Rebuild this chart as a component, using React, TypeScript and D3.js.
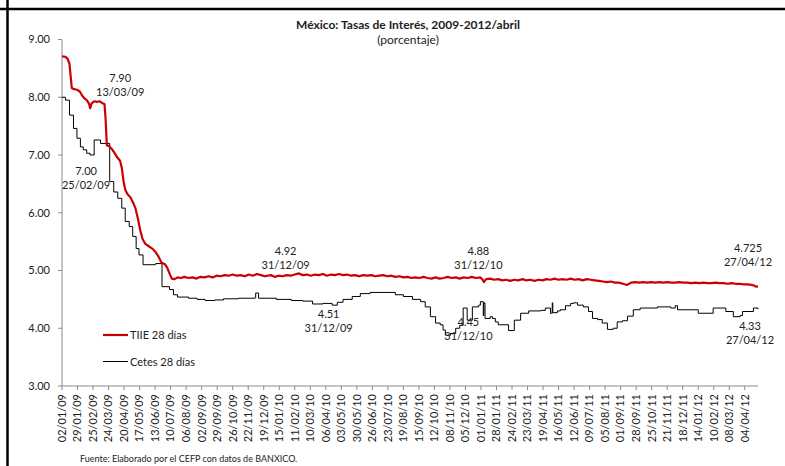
import React from "react";
import * as d3 from "d3";

const W = 785;
const H = 466;

// etiquetas del eje x (cada 27 días)
const tickDates = [
  "2009-01-02", "2009-01-29", "2009-02-25", "2009-03-24", "2009-04-20", "2009-05-17",
  "2009-06-13", "2009-07-10", "2009-08-06", "2009-09-02", "2009-09-29", "2009-10-26",
  "2009-11-22", "2009-12-19", "2010-01-15", "2010-02-11", "2010-03-10", "2010-04-06",
  "2010-05-03", "2010-05-30", "2010-06-26", "2010-07-23", "2010-08-19", "2010-09-15",
  "2010-10-12", "2010-11-08", "2010-12-05", "2011-01-01", "2011-01-28", "2011-02-24",
  "2011-03-23", "2011-04-19", "2011-05-16", "2011-06-12", "2011-07-09", "2011-08-05",
  "2011-09-01", "2011-09-28", "2011-10-25", "2011-11-21", "2011-12-18", "2012-01-14",
  "2012-02-10", "2012-03-08", "2012-04-04",
];
const yTicks = [3, 4, 5, 6, 7, 8, 9];

// TIIE 28 días
const tiie: [string, number][] = [
  ["2009-01-02", 8.71], ["2009-01-08", 8.70], ["2009-01-12", 8.66], ["2009-01-15", 8.58],
  ["2009-01-19", 8.16], ["2009-01-23", 8.14], ["2009-01-28", 8.13], ["2009-02-02", 8.10],
  ["2009-02-06", 8.03], ["2009-02-10", 7.98], ["2009-02-14", 7.95], ["2009-02-18", 7.89],
  ["2009-02-20", 7.81], ["2009-02-23", 7.90], ["2009-02-27", 7.93], ["2009-03-04", 7.92],
  ["2009-03-09", 7.93], ["2009-03-13", 7.90], ["2009-03-17", 7.88], ["2009-03-19", 7.60],
  ["2009-03-21", 7.17], ["2009-03-25", 7.15], ["2009-03-30", 7.10], ["2009-04-03", 7.04],
  ["2009-04-08", 6.96], ["2009-04-13", 6.90], ["2009-04-16", 6.78], ["2009-04-19", 6.55],
  ["2009-04-22", 6.40], ["2009-04-26", 6.32], ["2009-05-01", 6.27], ["2009-05-06", 6.17],
  ["2009-05-10", 6.07], ["2009-05-14", 5.90], ["2009-05-18", 5.70], ["2009-05-22", 5.55],
  ["2009-05-27", 5.46], ["2009-06-02", 5.42], ["2009-06-08", 5.38], ["2009-06-13", 5.33],
  ["2009-06-19", 5.24], ["2009-06-24", 5.14], ["2009-06-30", 5.11], ["2009-07-04", 5.05],
  ["2009-07-08", 4.95], ["2009-07-12", 4.86], ["2009-07-17", 4.85], ["2009-07-22", 4.88],
  ["2009-07-28", 4.87], ["2009-08-03", 4.89], ["2009-08-10", 4.87], ["2009-08-17", 4.88],
  ["2009-08-24", 4.86], ["2009-08-31", 4.89], ["2009-09-07", 4.88], ["2009-09-14", 4.90],
  ["2009-09-21", 4.88], ["2009-09-28", 4.91], ["2009-10-05", 4.90], ["2009-10-12", 4.92],
  ["2009-10-19", 4.91], ["2009-10-26", 4.93], ["2009-11-02", 4.91], ["2009-11-09", 4.92],
  ["2009-11-16", 4.90], ["2009-11-23", 4.93], ["2009-11-30", 4.91], ["2009-12-07", 4.94],
  ["2009-12-14", 4.92], ["2009-12-21", 4.90], ["2009-12-31", 4.92], ["2010-01-07", 4.89],
  ["2010-01-14", 4.91], ["2010-01-21", 4.90], ["2010-01-28", 4.92], ["2010-02-04", 4.91],
  ["2010-02-11", 4.93], ["2010-02-18", 4.95], ["2010-02-25", 4.92], ["2010-03-04", 4.93],
  ["2010-03-11", 4.91], ["2010-03-18", 4.93], ["2010-03-25", 4.92], ["2010-04-01", 4.94],
  ["2010-04-08", 4.91], ["2010-04-15", 4.93], ["2010-04-22", 4.92], ["2010-04-29", 4.94],
  ["2010-05-06", 4.92], ["2010-05-13", 4.93], ["2010-05-20", 4.91], ["2010-05-27", 4.92],
  ["2010-06-03", 4.90], ["2010-06-10", 4.92], ["2010-06-17", 4.91], ["2010-06-24", 4.92],
  ["2010-07-01", 4.90], ["2010-07-08", 4.91], ["2010-07-15", 4.92], ["2010-07-22", 4.90],
  ["2010-07-29", 4.91], ["2010-08-05", 4.89], ["2010-08-12", 4.90], ["2010-08-19", 4.88],
  ["2010-08-26", 4.89], ["2010-09-02", 4.87], ["2010-09-09", 4.88], ["2010-09-16", 4.87],
  ["2010-09-23", 4.89], ["2010-09-30", 4.87], ["2010-10-07", 4.86], ["2010-10-14", 4.88],
  ["2010-10-21", 4.86], ["2010-10-28", 4.87], ["2010-11-04", 4.89], ["2010-11-11", 4.87],
  ["2010-11-18", 4.88], ["2010-11-25", 4.86], ["2010-12-02", 4.88], ["2010-12-09", 4.87],
  ["2010-12-16", 4.89], ["2010-12-23", 4.87], ["2010-12-31", 4.88], ["2011-01-04", 4.84],
  ["2011-01-06", 4.80], ["2011-01-10", 4.85], ["2011-01-17", 4.86], ["2011-01-24", 4.84],
  ["2011-01-31", 4.85], ["2011-02-07", 4.83], ["2011-02-14", 4.84], ["2011-02-21", 4.82],
  ["2011-02-28", 4.84], ["2011-03-07", 4.83], ["2011-03-14", 4.85], ["2011-03-21", 4.83],
  ["2011-03-28", 4.84], ["2011-04-04", 4.82], ["2011-04-11", 4.84], ["2011-04-18", 4.83],
  ["2011-04-25", 4.85], ["2011-05-02", 4.84], ["2011-05-09", 4.86], ["2011-05-16", 4.84],
  ["2011-05-23", 4.85], ["2011-05-30", 4.84], ["2011-06-06", 4.86], ["2011-06-13", 4.84],
  ["2011-06-20", 4.85], ["2011-06-27", 4.83], ["2011-07-04", 4.85], ["2011-07-11", 4.84],
  ["2011-07-18", 4.83], ["2011-07-25", 4.82], ["2011-08-01", 4.81], ["2011-08-08", 4.80],
  ["2011-08-15", 4.81], ["2011-08-22", 4.79], ["2011-08-29", 4.79], ["2011-09-05", 4.77],
  ["2011-09-12", 4.75], ["2011-09-19", 4.79], ["2011-09-26", 4.80], ["2011-10-03", 4.79],
  ["2011-10-10", 4.80], ["2011-10-17", 4.79], ["2011-10-24", 4.80], ["2011-10-31", 4.79],
  ["2011-11-07", 4.80], ["2011-11-14", 4.79], ["2011-11-21", 4.80], ["2011-11-28", 4.79],
  ["2011-12-05", 4.79], ["2011-12-12", 4.80], ["2011-12-19", 4.79], ["2011-12-26", 4.79],
  ["2012-01-02", 4.78], ["2012-01-09", 4.79], ["2012-01-16", 4.78], ["2012-01-23", 4.79],
  ["2012-01-30", 4.78], ["2012-02-06", 4.78], ["2012-02-13", 4.79], ["2012-02-20", 4.78],
  ["2012-02-27", 4.78], ["2012-03-05", 4.77], ["2012-03-12", 4.78], ["2012-03-19", 4.77],
  ["2012-03-26", 4.77], ["2012-04-02", 4.76], ["2012-04-09", 4.76], ["2012-04-16", 4.75],
  ["2012-04-20", 4.74], ["2012-04-24", 4.72], ["2012-04-27", 4.725],
];

// Cetes 28 días (subastas semanales -> escalones)
const cetes: [string, number][] = [
  ["2009-01-02", 8.00], ["2009-01-08", 7.95], ["2009-01-15", 7.69], ["2009-01-22", 7.46],
  ["2009-01-28", 7.29], ["2009-02-03", 7.14], ["2009-02-08", 7.09], ["2009-02-14", 7.03],
  ["2009-02-20", 7.00], ["2009-02-27", 7.26], ["2009-03-10", 7.20], ["2009-03-26", 6.54],
  ["2009-04-02", 6.36], ["2009-04-09", 6.25], ["2009-04-16", 6.08], ["2009-04-22", 5.85],
  ["2009-04-29", 5.76], ["2009-05-05", 5.59], ["2009-05-11", 5.38], ["2009-05-16", 5.27],
  ["2009-05-23", 5.10], ["2009-06-14", 5.12], ["2009-06-25", 4.72], ["2009-07-08", 4.67],
  ["2009-07-15", 4.58], ["2009-07-22", 4.54], ["2009-08-10", 4.52], ["2009-08-25", 4.50],
  ["2009-09-08", 4.48], ["2009-09-25", 4.49], ["2009-10-10", 4.51], ["2009-11-05", 4.52],
  ["2009-12-04", 4.53], ["2009-12-05", 4.61], ["2009-12-10", 4.52], ["2010-01-10", 4.50],
  ["2010-02-05", 4.48], ["2010-02-25", 4.47], ["2010-03-14", 4.42], ["2010-04-01", 4.43],
  ["2010-04-17", 4.40], ["2010-04-26", 4.45], ["2010-05-06", 4.50], ["2010-05-22", 4.55],
  ["2010-06-05", 4.60], ["2010-06-22", 4.62], ["2010-08-05", 4.58], ["2010-08-19", 4.55],
  ["2010-09-04", 4.50], ["2010-09-18", 4.46], ["2010-09-26", 4.37], ["2010-10-05", 4.20],
  ["2010-10-14", 4.09], ["2010-10-22", 4.06], ["2010-10-27", 3.97], ["2010-10-31", 3.88],
  ["2010-11-09", 3.91], ["2010-11-18", 4.00], ["2010-11-25", 4.05], ["2010-12-01", 4.35],
  ["2010-12-08", 4.14], ["2010-12-17", 4.37], ["2010-12-28", 4.40], ["2010-12-31", 4.46],
  ["2011-01-05", 4.22], ["2011-01-06", 4.44], ["2011-01-08", 4.17], ["2011-01-17", 4.20],
  ["2011-01-21", 4.17], ["2011-01-26", 4.11], ["2011-01-31", 4.06], ["2011-02-18", 3.96],
  ["2011-02-28", 4.14], ["2011-03-11", 4.26], ["2011-03-25", 4.30], ["2011-04-15", 4.31],
  ["2011-04-23", 4.35], ["2011-05-02", 4.26], ["2011-05-05", 4.44], ["2011-05-06", 4.27],
  ["2011-05-14", 4.30], ["2011-05-19", 4.32], ["2011-05-28", 4.39], ["2011-06-06", 4.43],
  ["2011-06-11", 4.44], ["2011-06-18", 4.40], ["2011-06-28", 4.37], ["2011-07-07", 4.29],
  ["2011-07-14", 4.17], ["2011-07-23", 4.15], ["2011-07-31", 4.09], ["2011-08-09", 3.98],
  ["2011-08-19", 4.00], ["2011-08-26", 4.11], ["2011-09-04", 4.13], ["2011-09-13", 4.21],
  ["2011-09-23", 4.32], ["2011-10-05", 4.35], ["2011-11-04", 4.37], ["2011-11-27", 4.35],
  ["2011-12-05", 4.39], ["2011-12-09", 4.32], ["2012-01-14", 4.26], ["2012-02-09", 4.35],
  ["2012-03-02", 4.29], ["2012-03-15", 4.20], ["2012-03-27", 4.22], ["2012-03-31", 4.29],
  ["2012-04-19", 4.35], ["2012-04-27", 4.33],
];

// anotaciones: valor, fecha, serie
const notes = [
  { value: "7.90", date: "13/03/09", at: ["2009-03-13", 7.9], dx: 18, dy: -21 },
  { value: "7.00", date: "25/02/09", at: ["2009-02-25", 7.0], dx: -7, dy: 20 },
  { value: "4.92", date: "31/12/09", at: ["2009-12-31", 4.92], dx: 15, dy: -20 },
  { value: "4.51", date: "31/12/09", at: ["2009-12-31", 4.51], dx: 58, dy: 19 },
  { value: "4.88", date: "31/12/10", at: ["2010-12-31", 4.88], dx: -2, dy: -22 },
  { value: "4.45", date: "31/12/10", at: ["2010-12-31", 4.45], dx: -12, dy: 24 },
  { value: "4.725", date: "27/04/12", at: ["2012-04-27", 4.725], dx: -10, dy: -34 },
  { value: "4.33", date: "27/04/12", at: ["2012-04-27", 4.33], dx: -8, dy: 21 },
];

const parse = d3.timeParse("%Y-%m-%d");
const fmtTick = d3.timeFormat("%d/%m/%y");
const font = "Lato, 'Open Sans', sans-serif";
const ink = "#222";

export default function App() {
  const x = d3.scaleTime()
    .domain([parse("2009-01-02")!, parse("2012-04-27")!])
    .range([62, 758]);
  const y = d3.scaleLinear().domain([3, 9]).range([386, 39.5]);

  const line = d3.line<[string, number]>()
    .x(d => x(parse(d[0])!))
    .y(d => y(d[1]));
  const stepLine = d3.line<[string, number]>()
    .x(d => x(parse(d[0])!))
    .y(d => y(d[1]))
    .curve(d3.curveStepAfter);

  const axisColor = "#8a8a8a";

  return (
    <svg width={W} height={H} style={{ position: "absolute", left: 0, top: 0, background: "#fff" }}
      fontFamily={font}>
      {/* marco */}
      <line x1={0} x2={W} y1={9} y2={9} stroke="#000" strokeWidth={2.5} />
      <line x1={7.5} x2={7.5} y1={0} y2={H} stroke="#000" strokeWidth={2.5} />

      <text x={408} y={29} textAnchor="middle" fontSize={12} fontWeight="bold" fill={ink}>
        México: Tasas de Interés, 2009-2012/abril
      </text>
      <text x={408} y={44} textAnchor="middle" fontSize={12} fill={ink}>(porcentaje)</text>

      {/* eje y */}
      <line x1={62} x2={62} y1={y(9)} y2={y(3)} stroke={axisColor} />
      {yTicks.map(t => (
        <g key={t}>
          <line x1={58} x2={62} y1={y(t)} y2={y(t)} stroke={axisColor} />
          <text x={50} y={y(t)} dy="0.35em" textAnchor="end" fontSize={11} fill={ink}>
            {d3.format(".2f")(t)}
          </text>
        </g>
      ))}

      {/* eje x */}
      <line x1={62} x2={758} y1={y(3)} y2={y(3)} stroke={axisColor} />
      {tickDates.map(s => {
        const px = x(parse(s)!);
        return (
          <g key={s}>
            <line x1={px} x2={px} y1={y(3)} y2={y(3) + 4} stroke={axisColor} />
            <text transform={`translate(${px},${y(3) + 8}) rotate(-90)`} dy="0.35em"
              textAnchor="end" fontSize={11} fill={ink}>
              {fmtTick(parse(s)!)}
            </text>
          </g>
        );
      })}

      {/* series */}
      <path d={stepLine(cetes)!} fill="none" stroke="#000" strokeWidth={1} />
      <path d={line(tiie)!} fill="none" stroke="#cc0000" strokeWidth={2.2} strokeLinejoin="round" />

      {/* anotaciones */}
      {notes.map((n, i) => {
        const ax = x(parse(n.at[0] as string)!) + n.dx;
        const ay = y(n.at[1] as number) + n.dy;
        return (
          <text key={i} textAnchor="middle" fontSize={11} fill={ink}>
            <tspan x={ax} y={ay}>{n.value}</tspan>
            <tspan x={ax} y={ay + 14}>{n.date}</tspan>
          </text>
        );
      })}

      {/* leyenda */}
      <line x1={103} x2={128} y1={335} y2={335} stroke="#cc0000" strokeWidth={2.2} />
      <text x={130} y={339} fontSize={11} fill={ink}>TIIE 28 días</text>
      <line x1={103} x2={128} y1={361.5} y2={361.5} stroke="#000" strokeWidth={1} />
      <text x={130} y={365.5} fontSize={11} fill={ink}>Cetes 28 días</text>

      <text x={80} y={462} fontSize={9} fill={ink}>
        Fuente: Elaborado por el CEFP con datos de BANXICO.
      </text>
    </svg>
  );
}
